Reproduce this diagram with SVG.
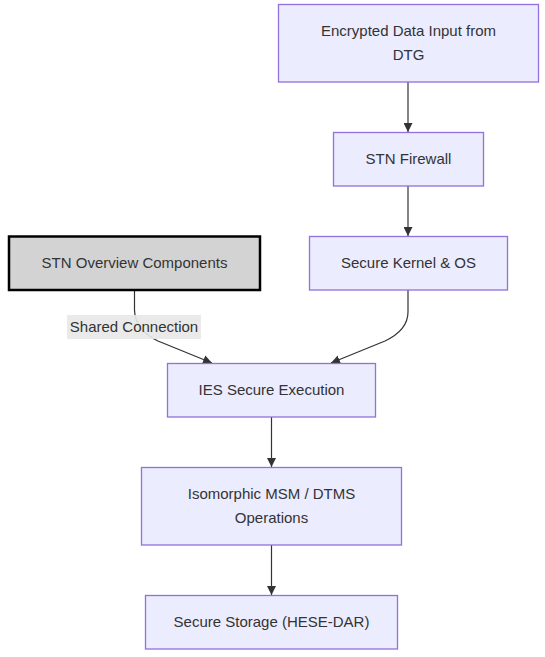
<svg xmlns="http://www.w3.org/2000/svg" width="545" height="657" viewBox="0 0 545 657">
<defs>
<style>
.node rect{fill:#ECECFF;stroke:#9370DB;stroke-width:1.3}
.node.dark rect{fill:#D3D3D3;stroke:#000;stroke-width:2.5}
text{font-family:"Liberation Sans",Arial,sans-serif;font-size:15px;fill:#333;text-anchor:middle;dominant-baseline:central}
.edge{fill:none;stroke:#333;stroke-width:1.2}
.lbl{fill:#E8E8E8;opacity:0.9}
</style>
<marker id="arr" viewBox="0 0 10 10" refX="10" refY="5" markerWidth="9" markerHeight="9" markerUnits="userSpaceOnUse" orient="auto">
<path d="M0,0 L10,5 L0,10 z" fill="#333"/>
</marker>
</defs>
<g id="connectors">
<path class="edge" d="M408,82 L408,132" marker-end="url(#arr)"/>
<path class="edge" d="M408,186 L408,236" marker-end="url(#arr)"/>
<path class="edge" d="M408,290 L408,312 Q408,330 385,341 L331,363" marker-end="url(#arr)"/>
<path class="edge" d="M134.5,290 L134.5,310 Q135,330 158,341 L212,363" marker-end="url(#arr)"/>
<path class="edge" d="M271.5,417 L271.5,467" marker-end="url(#arr)"/>
<path class="edge" d="M271.5,545 L271.5,595" marker-end="url(#arr)"/>
<g id="edge-label">
<rect class="lbl" x="67" y="315" width="134" height="24"/>
<text x="134" y="326.5">Shared Connection</text>
</g>
</g>
<g id="node-input" class="node">
<rect x="278.5" y="4.5" width="260" height="77.5"/>
<text x="408.5" y="30.5">Encrypted Data Input from</text>
<text x="408.5" y="54.5">DTG</text>
</g>
<g id="node-firewall" class="node">
<rect x="333.5" y="132.5" width="150" height="53.5"/>
<text x="408.5" y="158.5">STN Firewall</text>
</g>
<g id="node-kernel" class="node">
<rect x="309.5" y="236.5" width="198" height="53.5"/>
<text x="408.5" y="262.5">Secure Kernel &amp; OS</text>
</g>
<g id="node-overview" class="node dark">
<rect x="9" y="236.5" width="251" height="53.5"/>
<text x="134.5" y="262.5">STN Overview Components</text>
</g>
<g id="node-ies" class="node">
<rect x="167.5" y="363.5" width="208" height="53.5"/>
<text x="271.5" y="389.5">IES Secure Execution</text>
</g>
<g id="node-msm" class="node">
<rect x="141.5" y="467.5" width="260" height="77.5"/>
<text x="271.5" y="493.5">Isomorphic MSM / DTMS</text>
<text x="271.5" y="517.5">Operations</text>
</g>
<g id="node-storage" class="node">
<rect x="145.5" y="595.5" width="252" height="53.5"/>
<text x="271.5" y="621.5">Secure Storage (HESE-DAR)</text>
</g>
</svg>
